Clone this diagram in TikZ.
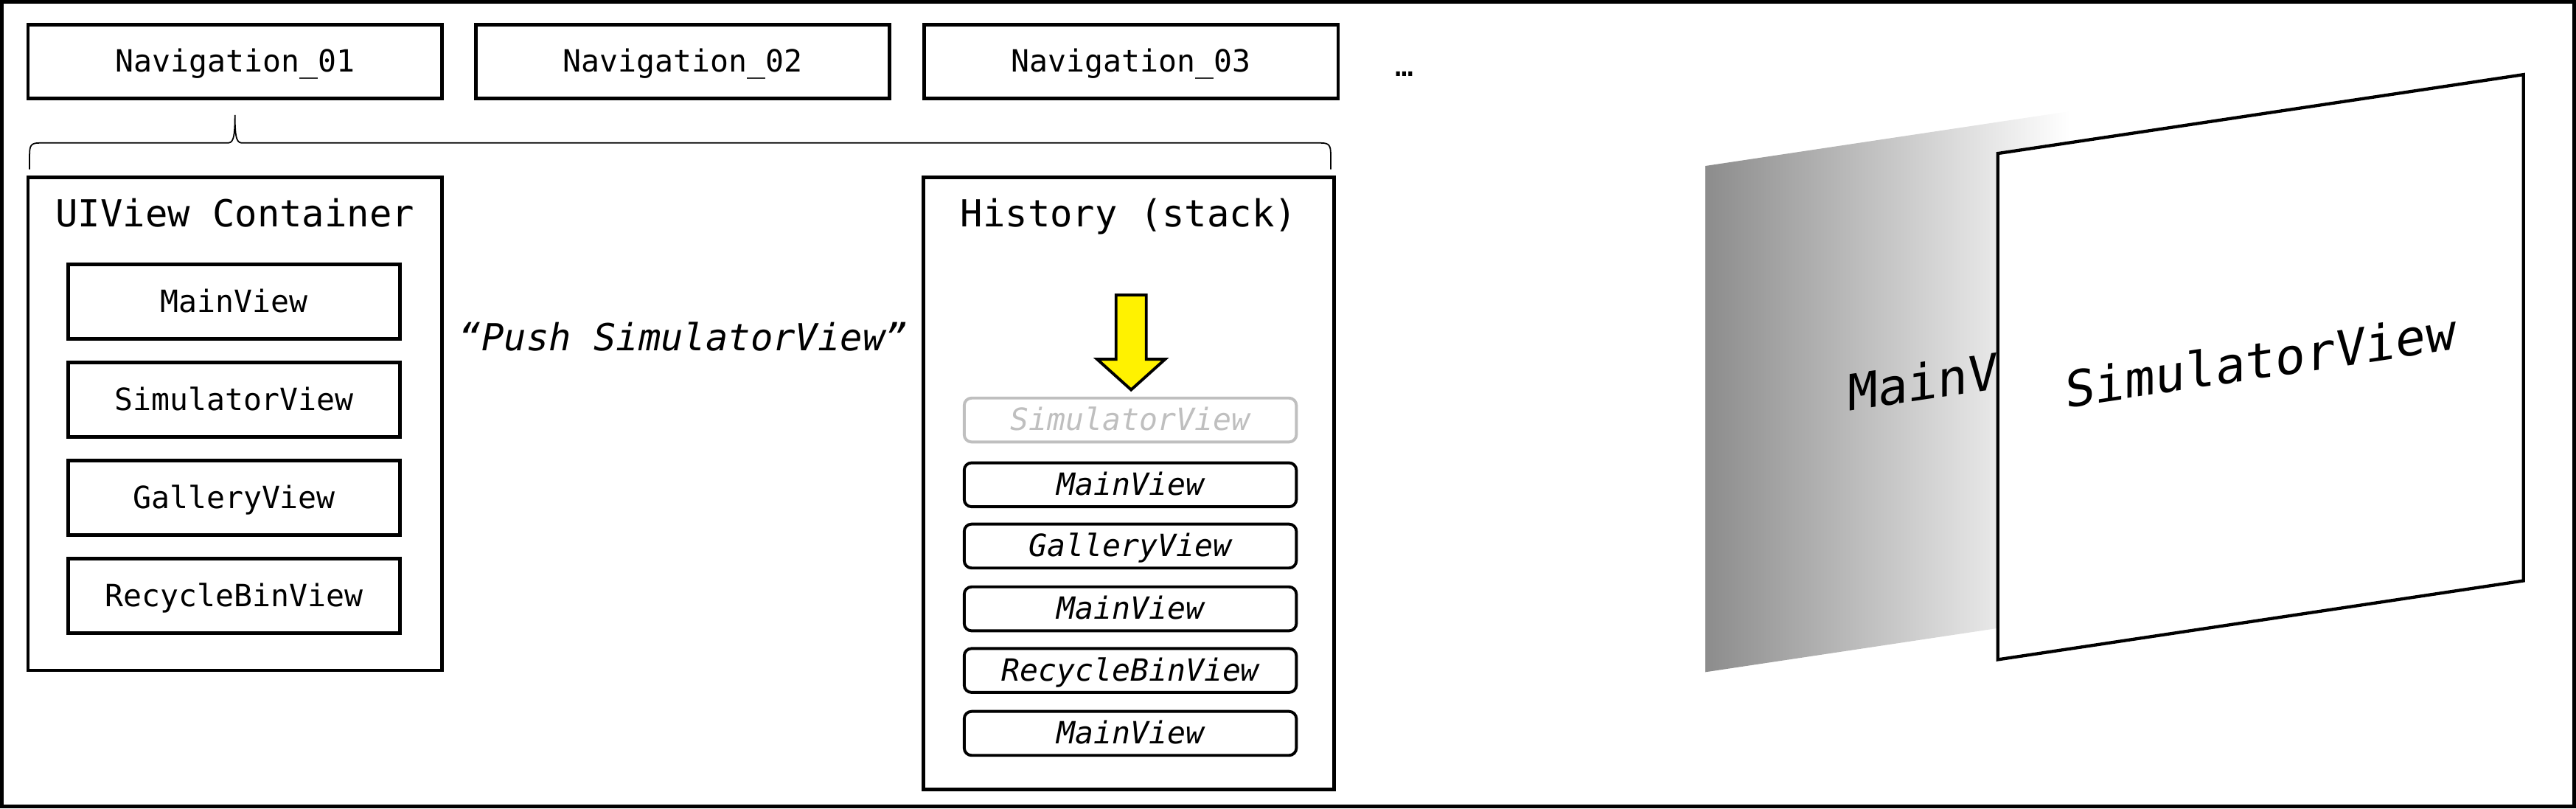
\documentclass[tikz,border=0pt]{standalone}
\usepackage{fontspec}
\newfontfamily\dmono{DejaVu Sans Mono}
\newcommand\fnav{\dmono\fontsize{10.6}{12.7}\selectfont}
\newcommand\ftitle{\dmono\fontsize{12.9}{15}\selectfont}
\newcommand\fbig{\dmono\fontsize{17.3}{20}\selectfont}
\begin{document}
\begin{tikzpicture}[x=0.02cm, y=-0.02cm,
  capbox/.style={text height=0.73em, text depth=0pt, inner sep=0pt},
  navbox/.style={capbox, draw, line width=1.2pt, minimum width=5.04cm, minimum height=0.9cm, font=\fnav},
  container/.style={draw, line width=1.2pt, inner sep=0pt},
  viewbox/.style={capbox, draw, line width=1.2pt, minimum width=4.04cm, minimum height=0.905cm, font=\fnav},
  stackitem/.style={capbox, draw, line width=1pt, rounded corners=0.09cm, minimum width=4.045cm, minimum height=0.535cm, font=\fnav\itshape},
  ghost/.style={stackitem, draw=black!25, text=black!25},
  title/.style={anchor=base, inner sep=0pt, font=\ftitle},
  bigtxt/.style={capbox, font=\fbig, transform shape},
  bracepath/.style={line width=0.45pt},
  pusharrow/.style={fill=yellow, draw=black, line width=1pt, line join=miter},
  panel/.style={draw, fill=white, line width=1.1pt, line join=miter}
]
\useasboundingbox (0,0) rectangle (1568,492);
\draw[line width=1.3pt] (1.15,1.15) rectangle (1566.85,490.85);

% navigation row
\node[navbox] (nav1) at (143,37.5) {Navigation\_01};
\node[navbox] (nav2) at (415.5,37.5) {Navigation\_02};
\node[navbox] (nav3) at (688.5,37.5) {Navigation\_03};
\node[capbox, font=\fnav] (dots) at (855,40) {…};

% brace
\coordinate (bl) at (18,103);
\coordinate (br) at (810,103);
\coordinate (tip) at (143,70);
\draw[bracepath] (bl) -- (18,94) .. controls (18,88.5) and (19,87) .. (24,87)
  -- (138,87) .. controls (141.5,87) and (143,86) .. (tip)
  .. controls (143,86) and (144.5,87) .. (148,87)
  -- (804,87) .. controls (809,87) and (810,88.5) .. (810,94) -- (br);

% UIView container
\node[container, minimum width=5.04cm, minimum height=6.0cm] (uiv) at (143,258) {};
\node[title] (uivt) at (143,138) {UIView Container};
\node[viewbox] (v1) at (142.5,183.5) {MainView};
\node[viewbox] (v2) at (142.5,243.3) {SimulatorView};
\node[viewbox] (v3) at (142.5,303) {GalleryView};
\node[viewbox] (v4) at (142.5,362.7) {RecycleBinView};

% push label
\node[capbox, font=\ftitle\itshape] (push) at (416,207) {“Push SimulatorView”};

% history
\node[container, minimum width=5.0cm, minimum height=7.45cm] (hist) at (687,294.3) {};
\node[title] (histt) at (687,138) {History (stack)};
\draw[pusharrow] (679.3,179.5) -- (697.7,179.5) -- (697.7,218.6) -- (709.2,218.6)
  -- (688.5,237.2) -- (667.8,218.6) -- (679.3,218.6) -- cycle;
\node[ghost] (s0) at (688,255.6) {SimulatorView};
\node[stackitem] (s1) at (688,295) {MainView};
\node[stackitem] (s2) at (688,332.3) {GalleryView};
\node[stackitem] (s3) at (688,370.5) {MainView};
\node[stackitem] (s4) at (688,408) {RecycleBinView};
\node[stackitem] (s5) at (688,446.3) {MainView};

% 3D panels
\begin{scope}
  \clip (1038,101) -- (1358,53) -- (1358,361) -- (1038,409) -- cycle;
  \shade[left color=black!45, right color=white] (1038,40) rectangle (1260,420);
\end{scope}
\begin{scope}[shift={(1198,233)}, yslant=0.15]
  \node[bigtxt] (backtxt) at (0,0) {MainView};
\end{scope}
\draw[panel] (1216,93.4) -- (1536,45.4) -- (1536,353.4) -- (1216,401.4) -- cycle;
\begin{scope}[shift={(1376,224)}, yslant=0.15]
  \node[bigtxt] (fronttxt) at (0,0) {SimulatorView};
\end{scope}
\end{tikzpicture}
\end{document}
